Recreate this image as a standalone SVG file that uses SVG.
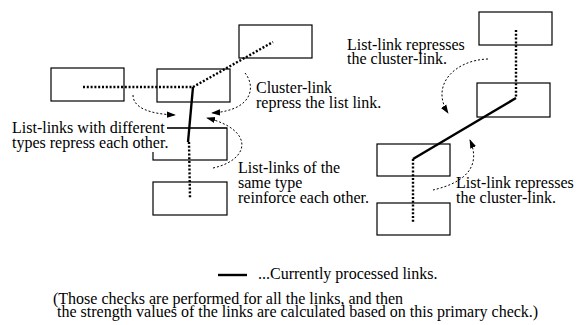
<svg xmlns="http://www.w3.org/2000/svg" width="577" height="325" viewBox="0 0 577 325">
<style>
.box{fill:#fff;stroke:#000;stroke-width:1.2}
.dot{fill:none;stroke:#000;stroke-width:2.4;stroke-dasharray:2 1.8}
.solid{fill:none;stroke:#000;stroke-width:2.4}
.cur{fill:none;stroke:#000;stroke-width:1;stroke-dasharray:2 2}
.lead{fill:none;stroke:#000;stroke-width:1}
text{font-family:"Liberation Serif","Times New Roman",serif;font-size:16px;fill:#000}
</style>
<defs>
<marker id="ah" viewBox="0 0 10 10" refX="9" refY="5" markerWidth="9" markerHeight="9" markerUnits="userSpaceOnUse" orient="auto">
<path d="M0,1.5 L10,5 L0,8.5 Z" fill="#000"/>
</marker>
</defs>
<g id="nodes">
<rect id="n1" class="box" x="51" y="68" width="73" height="33"/>
<rect id="n2" class="box" x="157" y="69" width="73" height="33"/>
<rect id="n3" class="box" x="239" y="25" width="73" height="33"/>
<rect id="n4" class="box" x="153" y="128" width="74" height="32"/>
<rect id="n5" class="box" x="153" y="182" width="74" height="33"/>
<rect id="n6" class="box" x="479" y="12" width="73" height="33"/>
<rect id="n7" class="box" x="477" y="83" width="73" height="34"/>
<rect id="n8" class="box" x="377" y="144" width="73" height="32"/>
<rect id="n9" class="box" x="377" y="203" width="73" height="32"/>
</g>
<g id="connectors">
<path class="dot" d="M83,87 L193,87"/>
<path class="dot" d="M193,87 L273,42"/>
<path class="solid" d="M193,87 L188,142"/>
<path class="dot" d="M189,142 L190,198"/>
<path class="dot" d="M516,30 L516,98"/>
<path class="solid" d="M516,98 L413,159"/>
<path class="dot" d="M413,159 L413,222"/>
<path class="cur" d="M133,95 C133,108 150,114 175,115" marker-end="url(#ah)"/>
<path class="cur" d="M245,73 C255,85 255,110 212,113" marker-end="url(#ah)"/>
<path class="cur" d="M213,168 C250,160 255,130 207,118" marker-end="url(#ah)"/>
<path class="cur" d="M488,59 C455,60 430,85 448,113" marker-end="url(#ah)"/>
<path class="cur" d="M433,190 C450,186 485,175 470,140" marker-end="url(#ah)"/>
<path class="solid" d="M218,275 L247,275"/>
</g>
<g id="labels">
<rect x="10" y="120" width="157" height="32" fill="#fff"/>
<path class="lead" d="M167,128 L227,128"/>
<text x="256" y="93">Cluster-link</text>
<text x="256" y="108">repress the list link.</text>
<text x="12" y="133">List-links with different</text>
<text x="12" y="148">types repress each other.</text>
<text x="238" y="173">List-links of the</text>
<text x="238" y="188">same type</text>
<text x="238" y="203">reinforce each other.</text>
<text x="347" y="50">List-link represses</text>
<text x="347" y="64">the cluster-link.</text>
<text x="456" y="188">List-link represses</text>
<text x="456" y="203">the cluster-link.</text>
<text x="258" y="279">...Currently processed links.</text>
<text x="53" y="304">(Those checks are performed for all the links, and then</text>
<text x="57" y="317">the strength values of the links are calculated based on this primary check.)</text>
</g>
</svg>
